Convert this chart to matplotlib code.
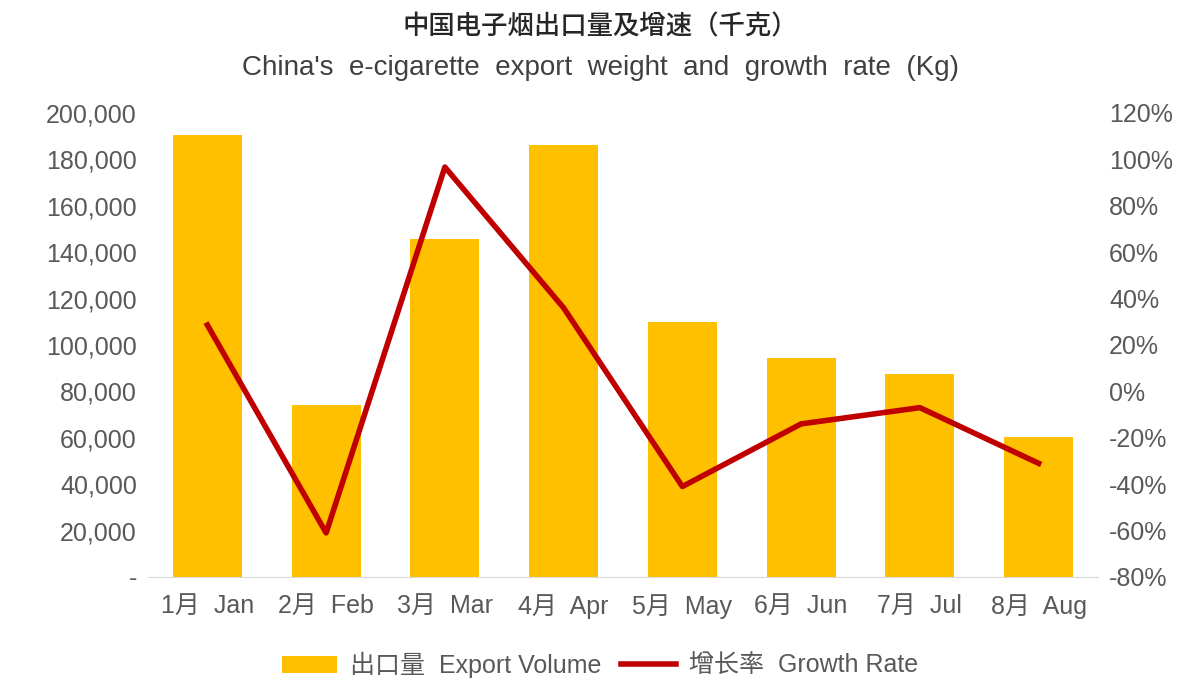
import matplotlib
matplotlib.use("Agg")
import matplotlib.pyplot as plt
from matplotlib import font_manager as fm
from matplotlib.ticker import FuncFormatter

cjk = None
for f in fm.findSystemFonts():
    if ("CJK" in f or "cjk" in f.lower()) and "Serif" not in f:
        try:
            fm.fontManager.addfont(f)
            name = fm.FontProperties(fname=f).get_name()
            if "Serif" in name:
                continue
            if cjk is None or "SC" in name:
                cjk = name
        except Exception:
            pass
if cjk is None:
    cjk = "Noto Sans CJK SC"
plt.rcParams['font.family'] = ['Liberation Sans', cjk]

months = ["1月  Jan", "2月  Feb", "3月  Mar", "4月  Apr", "5月  May", "6月  Jun", "7月  Jul", "8月  Aug"]
volume = [190500, 74100, 145700, 186200, 109900, 94400, 87500, 60300]
growth = [28.6, -61, 96.7, 36, -41, -14, -7, -31]

fig = plt.figure(figsize=(12, 6.99), dpi=100)
ax = fig.add_axes([148/1200, 1-577/699, 950/1200, 464/699])
ax2 = ax.twinx()
x = range(len(months))
ax.bar(x, volume, width=0.58, color="#FFC000", label="出口量  Export Volume", zorder=2)
ax2.plot(x, growth, color="#C00000", lw=4, label="增长率  Growth Rate", zorder=3)

ax.set_xlim(-0.5, len(months)-0.5)
ax.set_ylim(0, 200000)
ax.set_yticks(range(0, 200001, 20000))
ax.yaxis.set_major_formatter(FuncFormatter(lambda v, p: "-" if v == 0 else f"{int(v):,}"))
ax2.set_ylim(-80, 120)
ax2.set_yticks(range(-80, 121, 20))
ax2.yaxis.set_major_formatter(FuncFormatter(lambda v, p: f"{int(v)}%"))
ax.set_xticks(list(x))
ax.set_xticklabels(months)
for a in (ax, ax2):
    for s in a.spines.values():
        s.set_visible(False)
    a.tick_params(length=0, labelsize=18, colors="#595959")
ax.spines['bottom'].set_visible(True)
ax.spines['bottom'].set_color("#D9D9D9")
ax.tick_params(axis='x', pad=12)
ax.tick_params(axis='y', pad=8)
ax2.tick_params(axis='y', pad=8)

fig.text(0.5, 1-27/699, "中国电子烟出口量及增速（千克）", ha='center', va='center', fontsize=19, color="#262626", family=cjk, fontweight='medium')
fig.text(0.5, 1-68/699, "China's  e-cigarette  export  weight  and  growth  rate  (Kg)", ha='center', va='center', fontsize=20, color="#404040")

h1, l1 = ax.get_legend_handles_labels()
h2, l2 = ax2.get_legend_handles_labels()
fig.legend(h1+h2, l1+l2, loc='center', bbox_to_anchor=(0.5, 1-665/699), ncol=2, frameon=False,
           fontsize=18, labelcolor="#595959", handlelength=2.2, columnspacing=0.8, handletextpad=0.5)
fig.savefig("out.png", dpi=100)
